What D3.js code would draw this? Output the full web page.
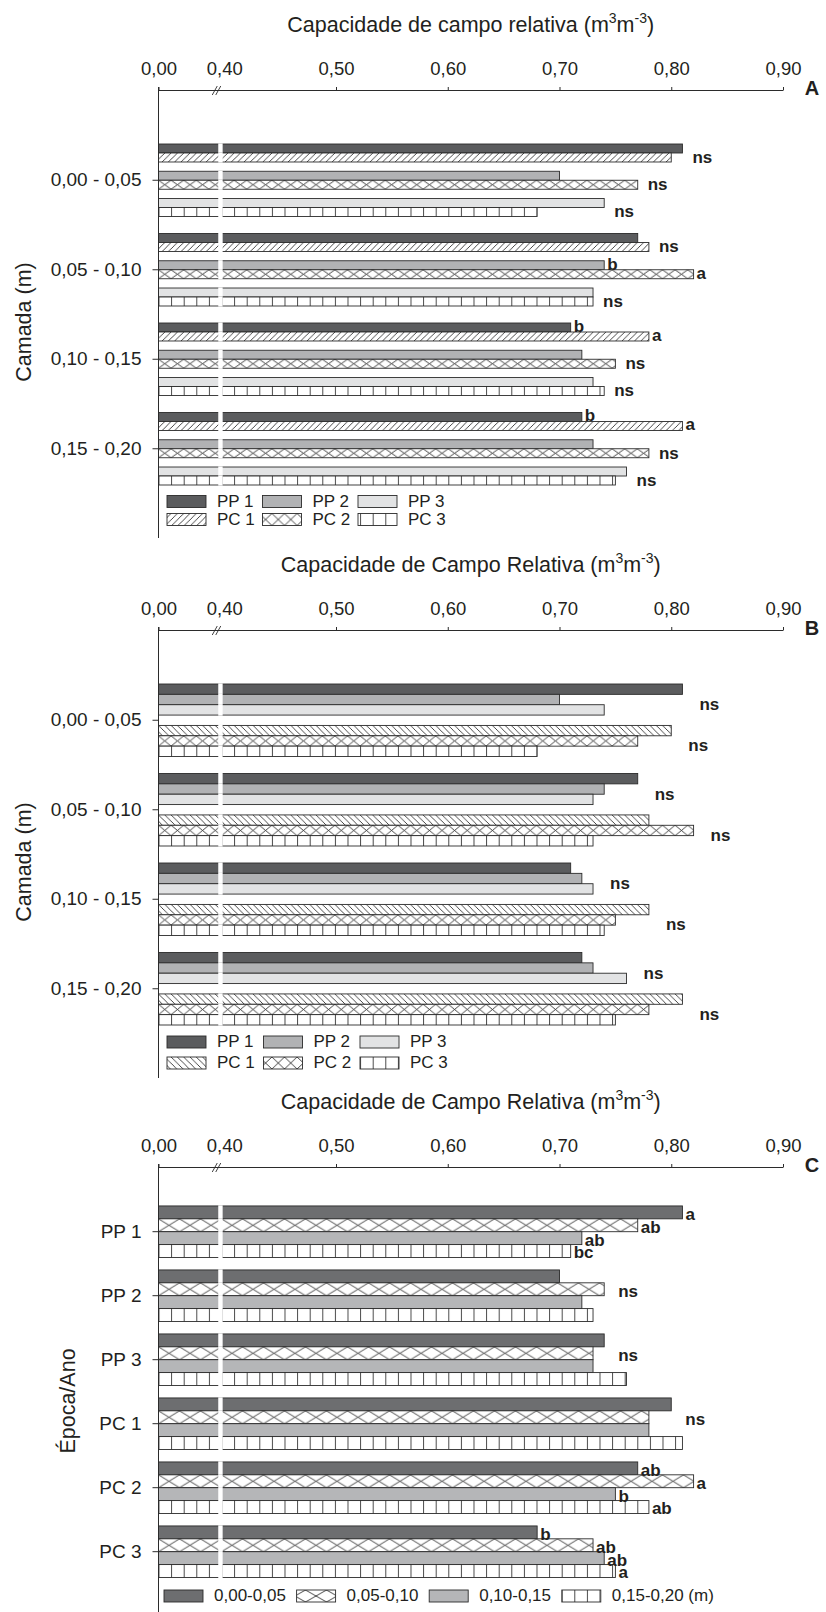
<!DOCTYPE html>
<html>
<head>
<meta charset="utf-8">
<script src="https://cdn.jsdelivr.net/npm/d3@7"></script>
<style>
    body { margin: 0; background: #fff; }
    text { font-family: "Liberation Sans", Arial, sans-serif; fill: #231f20; }
</style>
</head>
<body>
<svg id="chart" width="826" height="1612"></svg>
<script>
(function () {
    'use strict';

    // camadas e tratamentos
    var camadas = ['0,00 - 0,05', '0,05 - 0,10', '0,10 - 0,15', '0,15 - 0,20'];
    var tratamentos = ['PP 1', 'PP 2', 'PP 3', 'PC 1', 'PC 2', 'PC 3'];

    // capacidade de campo relativa (m3 m-3), um valor por camada
    var pp1 = [0.81, 0.77, 0.71, 0.72];
    var pp2 = [0.70, 0.74, 0.72, 0.73];
    var pp3 = [0.74, 0.73, 0.73, 0.76];
    var pc1 = [0.80, 0.78, 0.78, 0.81];
    var pc2 = [0.77, 0.82, 0.75, 0.78];
    var pc3 = [0.68, 0.73, 0.74, 0.75];

    // painel A: letras por camada, um item por par (PP n / PC n)
    var letrasA = [
        ['ns', 'ns', 'ns'],
        ['ns', ['b', 'a'], 'ns'],
        [['b', 'a'], 'ns', 'ns'],
        [['b', 'a'], 'ns', 'ns']
    ];
    // painel B: letras por camada, grupo PP e grupo PC
    var letrasB = [
        ['ns', 'ns'],
        ['ns', 'ns'],
        ['ns', 'ns'],
        ['ns', 'ns']
    ];

    // painel C: por época/ano, um valor por camada
    var epocas = ['PP 1', 'PP 2', 'PP 3', 'PC 1', 'PC 2', 'PC 3'];
    var camadasC = ['0,00-0,05', '0,05-0,10', '0,10-0,15', '0,15-0,20 (m)'];
    var epPP1 = [0.81, 0.77, 0.72, 0.71];
    var epPP2 = [0.70, 0.74, 0.72, 0.73];
    var epPP3 = [0.74, 0.73, 0.73, 0.76];
    var epPC1 = [0.80, 0.78, 0.78, 0.81];
    var epPC2 = [0.77, 0.82, 0.75, 0.78];
    var epPC3 = [0.68, 0.73, 0.74, 0.75];
    var letrasC = [['a', 'ab', 'ab', 'bc'], 'ns', 'ns', 'ns', ['ab', 'a', 'b', 'ab'], ['b', 'ab', 'ab', 'a']];

    var xTicks = [0, 0.40, 0.50, 0.60, 0.70, 0.80, 0.90];

    var valores = {'PP 1': pp1, 'PP 2': pp2, 'PP 3': pp3, 'PC 1': pc1, 'PC 2': pc2, 'PC 3': pc3};
    var valoresC = [epPP1, epPP2, epPP3, epPC1, epPC2, epPC3];

    var fmt = d3.formatLocale({decimal: ',', thousands: '.', grouping: [3], currency: ['', '']}).format('.2f');
    var svg = d3.select('#chart');
    var defs = svg.append('defs');
    var x = d3.scaleLinear().domain([0, 0.40, 0.90]).range([158.5, 224.25, 783]);
    var traco = '#2b2b2b';

    var estiloA = {
        'PP 1': {cor: '#5b5c5e'}, 'PP 2': {cor: '#b1b2b4'}, 'PP 3': {cor: '#e2e3e4'},
        'PC 1': {padrao: 'diag'}, 'PC 2': {padrao: 'cruz', passo: 12.6}, 'PC 3': {padrao: 'grade'}
    };
    var estiloB = {
        'PP 1': {cor: '#5b5c5e'}, 'PP 2': {cor: '#b1b2b4'}, 'PP 3': {cor: '#e2e3e4'},
        'PC 1': {padrao: 'contra'}, 'PC 2': {padrao: 'cruz', passo: 12.6}, 'PC 3': {padrao: 'grade'}
    };
    var estiloC = [{cor: '#6d6e70'}, {padrao: 'cruz', passo: 21}, {cor: '#b5b6b8'}, {padrao: 'grade'}];

    var nPat = 0;
    function makePattern(est, y0, h) {
        var id = 'pat' + (nPat++);
        var p = defs.append('pattern').attr('id', id).attr('patternUnits', 'userSpaceOnUse')
            .attr('x', x(0)).attr('y', y0);
        var w, d;
        if (est.padrao === 'cruz') {
            w = est.passo; d = 'M0,0L' + w + ',' + h + 'M0,' + h + 'L' + w + ',0';
            p.attr('width', w).attr('height', h);
        } else if (est.padrao === 'grade') {
            w = 12.6; d = 'M0.5,0V' + h;
            p.attr('width', w).attr('height', h);
        } else {
            w = 6.3;
            p.attr('width', w).attr('height', w);
            d = est.padrao === 'diag'
                ? 'M0,' + w + 'L' + w + ',0M-1,1L1,-1M' + (w - 1) + ',' + (w + 1) + 'L' + (w + 1) + ',' + (w - 1)
                : 'M0,0L' + w + ',' + w + 'M-1,' + (w - 1) + 'L1,' + (w + 1) + 'M' + (w - 1) + ',-1L' + (w + 1) + ',1';
        }
        p.append('rect').attr('width', w).attr('height', p.attr('height')).attr('fill', '#fff');
        p.append('path').attr('d', d).attr('stroke', '#333').attr('stroke-width', 0.9).attr('fill', 'none');
        return 'url(#' + id + ')';
    }

    function fillFor(est, y0, h) {
        return est.cor || makePattern(est, y0, h);
    }

    function drawBar(g, v, y0, h, est) {
        g.append('rect').attr('x', x(0)).attr('y', y0).attr('width', x(v) - x(0)).attr('height', h)
            .attr('fill', fillFor(est, y0, h)).attr('stroke', traco).attr('stroke-width', 0.9);
        // quebra do eixo
        g.append('rect').attr('x', x(0.40) - 6).attr('y', y0 - 0.6).attr('width', 4.4).attr('height', h + 1.2)
            .attr('fill', '#fff');
    }

    function letra(g, txt, px, py) {
        g.append('text').attr('x', px).attr('y', py).text(txt)
            .attr('style', 'font-size: 17px; font-weight: bold;');
    }

    function topAxis(g, axisY, titulo, rotulo) {
        var ax = g.append('g').attr('transform', 'translate(0,' + axisY + ')')
            .call(d3.axisTop(x).tickValues(xTicks).tickFormat(fmt).tickSize(3).tickSizeOuter(0).tickPadding(12));
        ax.select('.domain').attr('stroke', traco);
        ax.selectAll('.tick line').attr('stroke', traco).filter(function (d) { return d === 0.40; }).remove();
        ax.selectAll('.tick text').attr('font-size', 18.5).attr('font-family', null);
        // marca de quebra //
        var bx = x(0.40);
        ax.append('path').attr('d', 'M' + (bx - 12) + ',5L' + (bx - 7) + ',-4M' + (bx - 8.5) + ',5L' + (bx - 3.5) + ',-4')
            .attr('stroke', traco).attr('stroke-width', 0.9).attr('fill', 'none');

        var cx = (x(0) + x(0.90)) / 2;
        var t = g.append('text').attr('x', cx).attr('y', axisY - 58).attr('text-anchor', 'middle')
            .attr('style', 'font-size: 21.5px;');
        t.append('tspan').text(titulo + ' (m');
        t.append('tspan').attr('dy', -9).attr('style', 'font-size: 14px;').text('3');
        t.append('tspan').attr('dy', 9).text('m');
        t.append('tspan').attr('dy', -9).attr('style', 'font-size: 14px;').text('-3');
        t.append('tspan').attr('dy', 9).text(')');

        g.append('text').attr('x', 812).attr('y', axisY + 5).attr('text-anchor', 'middle').text(rotulo)
            .attr('style', 'font-size: 20px; font-weight: bold;');
    }

    function leftAxis(g, axisY, y, fim, titulo, tituloX, tituloY) {
        g.append('line').attr('x1', x(0)).attr('x2', x(0)).attr('y1', axisY - 3).attr('y2', fim)
            .attr('stroke', traco).attr('stroke-width', 1);
        var ax = g.append('g').attr('transform', 'translate(' + x(0) + ',0)')
            .call(d3.axisLeft(y).tickSize(6).tickPadding(11));
        ax.select('.domain').remove();
        ax.selectAll('.tick line').attr('stroke', traco);
        ax.selectAll('.tick text').attr('font-size', 19).attr('font-family', null);
        g.append('text').attr('transform', 'translate(' + tituloX + ',' + tituloY + ') rotate(-90)')
            .attr('text-anchor', 'middle').text(titulo).attr('style', 'font-size: 21.5px;');
    }

    function legenda(g, itens, estilos, x0, passoX, y0, passoY, porLinha, sw) {
        itens.forEach(function (nome, i) {
            var lx = x0 + (i % porLinha) * passoX;
            var ly = y0 + Math.floor(i / porLinha) * passoY;
            g.append('rect').attr('x', lx).attr('y', ly).attr('width', sw).attr('height', 12)
                .attr('fill', fillFor(estilos[i], ly, 12)).attr('stroke', traco).attr('stroke-width', 0.9);
            g.append('text').attr('x', lx + sw + 11).attr('y', ly + 11).text(nome)
                .attr('style', 'font-size: 17px;');
        });
    }

    // ---------- painel A ----------
    function painelA(axisY) {
        var g = svg.append('g');
        var y = d3.scaleBand().domain(camadas).range([axisY + 45.5, axisY + 403.5])
            .paddingInner(0.19).paddingOuter(0.095);
        var pares = [['PP 1', 'PC 1'], ['PP 2', 'PC 2'], ['PP 3', 'PC 3']];
        var yPar = d3.scaleBand().domain([0, 1, 2]).range([0, y.bandwidth()]).paddingInner(0.34);
        var yIn = d3.scaleBand().domain([0, 1]).range([0, yPar.bandwidth()]);
        var barras = g.append('g');
        camadas.forEach(function (c, ci) {
            pares.forEach(function (par, pi) {
                par.forEach(function (t, ti) {
                    var y0 = y(c) + yPar(pi) + yIn(ti);
                    drawBar(barras, valores[t][ci], y0, yIn.bandwidth(), estiloA[t]);
                });
                var lt = letrasA[ci][pi];
                var base = y(c) + yPar(pi);
                if (lt === 'ns') {
                    var mx = d3.max(par, function (t) { return valores[t][ci]; });
                    letra(g, 'ns', x(mx) + 10, base + yPar.bandwidth() + 1);
                } else {
                    par.forEach(function (t, ti) {
                        letra(g, lt[ti], x(valores[t][ci]) + 3, base + yIn(ti) + yIn.bandwidth());
                    });
                }
            });
        });
        topAxis(g, axisY, 'Capacidade de campo relativa', 'A');
        leftAxis(g, axisY, y, axisY + 448, 'Camada (m)', 31, axisY + 232);
        legenda(g, ['PP 1', 'PP 2', 'PP 3', 'PC 1', 'PC 2', 'PC 3'],
            tratamentos.map(function (t) { return estiloA[t]; }), 167, 95.5, axisY + 405.5, 18, 3, 39);
    }

    // ---------- painel B ----------
    function painelB(axisY) {
        var g = svg.append('g');
        var y = d3.scaleBand().domain(camadas).range([axisY + 45.5, axisY + 403.5])
            .paddingInner(0.19).paddingOuter(0.095);
        var blocos = [['PP 1', 'PP 2', 'PP 3'], ['PC 1', 'PC 2', 'PC 3']];
        var yBl = d3.scaleBand().domain([0, 1]).range([0, y.bandwidth()]).paddingInner(0.25);
        var yIn = d3.scaleBand().domain([0, 1, 2]).range([0, yBl.bandwidth()]);
        var barras = g.append('g');
        camadas.forEach(function (c, ci) {
            blocos.forEach(function (bl, bi) {
                bl.forEach(function (t, ti) {
                    drawBar(barras, valores[t][ci], y(c) + yBl(bi) + yIn(ti), yIn.bandwidth(), estiloB[t]);
                });
                var mx = d3.max(bl, function (t) { return valores[t][ci]; });
                letra(g, letrasB[ci][bi], x(mx) + 17, y(c) + yBl(bi) + yBl.bandwidth() - 5);
            });
        });
        topAxis(g, axisY, 'Capacidade de Campo Relativa', 'B');
        leftAxis(g, axisY, y, axisY + 448, 'Camada (m)', 31, axisY + 232);
        legenda(g, ['PP 1', 'PP 2', 'PP 3', 'PC 1', 'PC 2', 'PC 3'],
            tratamentos.map(function (t) { return estiloB[t]; }), 167, 96.5, axisY + 406, 21, 3, 39);
    }

    // ---------- painel C ----------
    function painelC(axisY) {
        var g = svg.append('g');
        var y = d3.scaleBand().domain(epocas).range([axisY + 32.7, axisY + 416.7])
            .paddingInner(0.195).paddingOuter(0.0975);
        var yIn = d3.scaleBand().domain([0, 1, 2, 3]).range([0, y.bandwidth()]);
        var barras = g.append('g');
        epocas.forEach(function (e, ei) {
            valoresC[ei].forEach(function (v, li) {
                drawBar(barras, v, y(e) + yIn(li), yIn.bandwidth(), estiloC[li]);
            });
            var lt = letrasC[ei];
            if (lt === 'ns') {
                var mx = d3.max(valoresC[ei].slice(0, 2));
                letra(g, 'ns', x(mx) + 14, y(e) + y.bandwidth() / 2 + 1);
            } else {
                valoresC[ei].forEach(function (v, li) {
                    letra(g, lt[li], x(v) + 3, y(e) + yIn(li) + yIn.bandwidth() + 1);
                });
            }
        });
        topAxis(g, axisY, 'Capacidade de Campo Relativa', 'C');
        leftAxis(g, axisY, y, 1612, '\u00c9poca/Ano', 75, axisY + 234);
        legenda(g, camadasC, estiloC, 164, 132.6, axisY + 423, 0, 4, 39);
    }

    painelA(90);
    painelB(630);
    painelC(1167);
})();
</script>
</body>
</html>
